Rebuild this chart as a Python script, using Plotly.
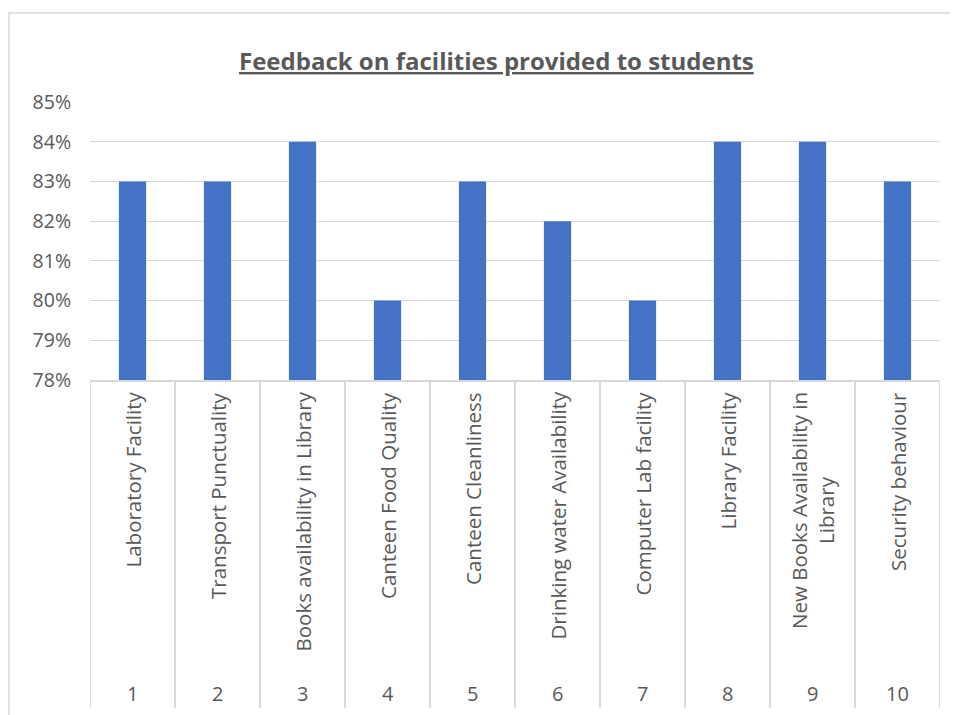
import plotly.graph_objects as go

numbers = ["1", "2", "3", "4", "5", "6", "7", "8", "9", "10"]
facilities = [
    "Laboratory Facility",
    "Transport Punctuality",
    "Books availability in Library",
    "Canteen Food Quality",
    "Canteen Cleanliness",
    "Drinking water Availability",
    "Computer Lab facility",
    "Library Facility",
    "New Books Availability in<br>Library",
    "Security behaviour",
]
scores = [0.83, 0.83, 0.84, 0.80, 0.83, 0.82, 0.80, 0.84, 0.84, 0.83]
title_text = "Feedback on facilities provided to students"

FONT = "Open Sans"
GREY = "#595959"
LINE = "#d9d9d9"

xpos = list(range(1, len(numbers) + 1))

fig = go.Figure()
fig.add_trace(go.Bar(x=xpos, y=scores, marker=dict(color="#4472C4", line=dict(width=0)),
                     width=0.32, hoverinfo="skip"))

PLOT_W = 850
PLOT_H = 278

annotations = []
shapes = []
for i, (n, lab) in enumerate(zip(numbers, facilities)):
    x = xpos[i]
    annotations.append(dict(x=x, xref="x", y=-(313 / PLOT_H), yref="paper", text=n,
                            showarrow=False, font=dict(family=FONT, size=20, color=GREY),
                            xanchor="center", yanchor="middle"))
    annotations.append(dict(x=x, xref="x", y=-(10 / PLOT_H), yref="paper", text=lab,
                            showarrow=False, textangle=-90,
                            font=dict(family=FONT, size=20.5, color=GREY),
                            xanchor="center", yanchor="top", align="center"))
for b in [p - 0.5 for p in xpos] + [xpos[-1] + 0.5]:
    shapes.append(dict(type="line", xref="x", yref="paper", x0=b, x1=b, y0=0, y1=-(328 / PLOT_H),
                       line=dict(color=LINE, width=2)))

# outer chart border
shapes.append(dict(type="rect", xref="paper", yref="paper",
                   x0=-(81 / PLOT_W), x1=(PLOT_W + 40) / PLOT_W,
                   y0=-(360 / PLOT_H), y1=1 + (89 / PLOT_H),
                   line=dict(color=LINE, width=1.5)))

annotations.append(dict(x=(496 - 90) / PLOT_W, xref="paper", y=1 + (42 / PLOT_H), yref="paper",
                        text="<b><u>" + title_text + "</u></b>", showarrow=False,
                        font=dict(family=FONT, size=24, color=GREY),
                        xanchor="center", yanchor="middle"))

fig.update_layout(
    width=950, height=707,
    margin=dict(l=82, r=18, t=94, b=335),
    paper_bgcolor="white", plot_bgcolor="white",
    showlegend=False,
    annotations=annotations,
    shapes=shapes,
    xaxis=dict(range=[0.5, len(xpos) + 0.5], showticklabels=False, showgrid=False,
               zeroline=False, showline=True, linecolor=LINE, linewidth=2, ticks=""),
    yaxis=dict(range=[0.78, 0.85], dtick=0.01, tick0=0.78, tickformat=".0%",
               showgrid=True, gridcolor=LINE, gridwidth=1, zeroline=False,
               showline=False, ticks="", ticklabelstandoff=18,
               tickfont=dict(family=FONT, size=19.5, color=GREY)),
)

fig.write_html("out.html")
